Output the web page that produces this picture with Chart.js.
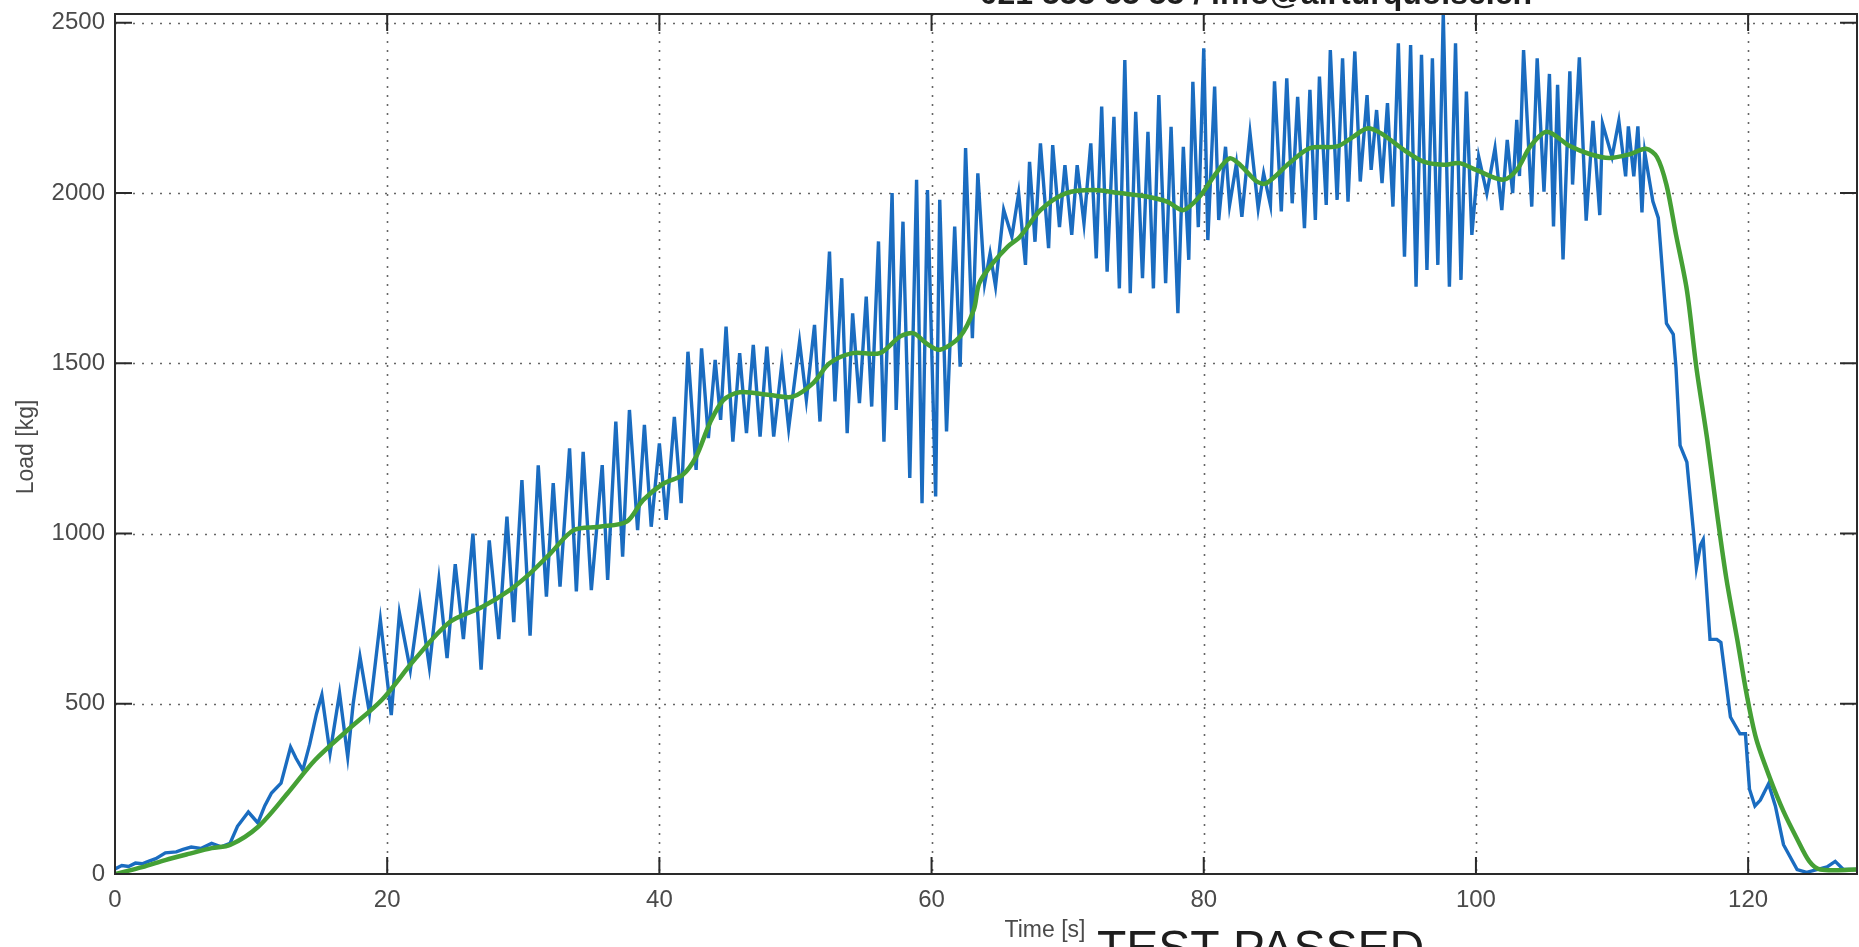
<!DOCTYPE html>
<html>
<head>
<meta charset="utf-8">
<script src="https://cdn.jsdelivr.net/npm/chart.js@4/dist/chart.umd.min.js"></script>
<style>
html,body{margin:0;padding:0;background:#fff;}
#wrap{width:1859px;height:947px;position:relative;}
</style>
</head>
<body>
<div id="wrap"><canvas id="c"></canvas></div>
<script>
// ---- data ----
const xTicks = [0, 20, 40, 60, 80, 100, 120];
const yTicks = [0, 500, 1000, 1500, 2000, 2500];
const xTitle = "Time [s]";
const yTitle = "Load [kg]";
const headerText = "021 555 55 55 / info@airturquoise.ch";
const stampText = "TEST PASSED";

// raw load signal (blue): time [s]
const blueTime = [
0,0.5,1,1.5,2,2.5,3,3.7,4.5,5.0,5.6,6.3,7.1,7.8,8.45,9.0,9.8,10.5,11.0,11.5,12.2,12.9,13.3,13.8,14.3,14.8,15.2,15.8,16.5,17.1,17.5,18.0,18.7,19.5,20.3,20.9,21.7,22.4,23.1,23.8,24.4,
25.0,25.6,26.3,26.9,27.5,28.2,28.8,29.3,29.9,30.5,31.1,31.7,32.2,32.7,33.4,33.9,34.4,35.0,35.8,36.2,36.8,37.3,37.8,38.4,38.9,39.4,40.0,40.5,41.1,41.6,42.1,42.7,43.1,43.6,44.1,44.5,
44.9,45.4,45.9,46.4,46.9,47.4,47.9,48.4,49.0,49.5,50.3,50.8,51.4,51.8,52.5,52.9,53.4,53.8,54.2,54.7,55.2,55.6,56.1,56.5,57.1,57.4,57.9,58.4,58.9,59.3,59.7,60.3,60.6,61.1,61.7,62.1,62.5,63.0,63.4,63.9,64.3,64.7,
65.3,65.9,66.4,66.9,67.2,67.6,68.0,68.6,68.9,69.4,69.8,70.3,70.7,71.2,71.7,72.1,72.5,72.9,73.4,73.8,74.2,74.6,75.0,75.5,75.9,76.3,76.7,77.2,77.6,78.1,78.5,78.9,79.2,79.6,80.0,80.3,80.8,81.1,81.6,81.9,82.4,82.8,83.4,84.0,84.4,84.9,
85.2,85.7,86.1,86.5,86.9,87.4,87.8,88.2,88.5,89.0,89.3,89.8,90.2,90.6,91.1,91.5,92.0,92.3,92.7,93.1,93.5,93.9,94.3,94.75,95.2,95.6,96.0,96.4,96.8,97.2,97.6,98.05,98.5,98.9,99.3,99.7,100.2,100.8,101.4,101.9,102.3,102.7,103.0,103.2,103.5,104.1,104.5,105.0,
105.4,105.7,106.0,106.4,106.9,107.1,107.6,108.1,108.6,109.1,109.3,110.0,110.5,111.0,111.2,111.6,111.9,112.2,112.4,113.0,113.4,114.0,114.5,114.7,115.0,115.5,116.0,116.2,116.5,116.7,117.2,117.7,118.0,118.7,119.4,119.8,120.1,120.5,120.9,121.5,122.0,122.6,123.6,124.3,125.8,126.4,127.0,128.0
];
const blueLoad = [
15,25,22,32,30,38,45,62,65,72,79,75,90,80,90,140,182,150,200,238,267,373,340,305,380,470,526,355,531,344,500,638,472,746,467,766,599,805,608,864,634,
910,690,1000,600,980,690,1050,740,1157,700,1200,815,1148,844,1250,830,1240,834,1201,864,1329,932,1363,1010,1319,1020,1265,1040,1343,1089,1534,1187,1544,1280,1510,1334,
1608,1270,1530,1295,1554,1285,1549,1285,1500,1309,1564,1393,1613,1329,1828,1388,1750,1295,1647,1383,1696,1373,1858,1270,2000,1363,1916,1163,2039,1089,2009,1109,1980,1300,1902,1490,2132,1574,2058,1735,1823,1726,
1951,1872,2000,1789,2092,1857,2146,1838,2141,1900,2082,1877,2082,1911,2146,1808,2254,1769,2224,1720,2391,1706,2239,1750,2180,1720,2288,1735,2195,1647,2136,1804,2327,1900,2425,1862,2313,1921,2136,1965,2087,1930,2176,1955,2058,1965,
2328,1946,2337,1970,2283,1897,2303,1921,2342,1965,2420,1980,2396,1975,2416,2034,2288,2068,2244,2029,2264,1960,2440,1813,2435,1725,2406,1774,2396,1789,2528,1725,2440,1745,2298,1877,2107,1999,2132,1950,2156,2000,2215,2050,2420,1960,2396,2004,
2350,1902,2318,1805,2358,2025,2399,1919,2212,1935,2204,2106,2212,2049,2196,2049,2196,1943,2120,1976,1927,1617,1585,1487,1259,1210,998,900,966,982,689,689,680,461,412,412,249,200,217,265,200,86,13,5,21,37,13,13
];

// smoothed load (green)
const greenTime = [
0,2,3.7,5.5,7.1,8.45,10.5,12.7,14.7,17.1,19.6,22.0,24.6,27.0,29.0,30.5,32.0,33.7,35.6,37.6,38.8,40.3,41.7,42.7,43.7,44.7,45.9,48.1,49.8,51.3,52.5,54.2,56.2,57.7,58.7,59.6,60.6,62.1,63.1,63.5,64.5,65.6,66.5,68.0,69.9,71.9,73.8,75.8,77.3,78.5,79.7,80.9,81.9,82.7,83.9,84.6,86.3,87.8,89.8,91.0,92.0,93.0,94.7,96.1,97.6,98.8,100.0,102.0,103.0,104.0,105.2,106.9,108.4,109.8,111.3,112.5,113.3,114.0,114.7,115.5,116.2,117.0,117.7,118.4,119.2,119.9,120.6,121.6,122.6,123.6,124.5,125.3,128.0
];
const greenLoad = [
0,20,41,60,76,85,138,238,335,423,511,629,740,785,834,883,942,1010,1020,1035,1098,1147,1172,1226,1324,1392,1415,1407,1402,1442,1500,1530,1530,1579,1588,1559,1540,1579,1657,1735,1794,1843,1872,1950,2000,2009,2000,1990,1975,1950,1990,2058,2102,2082,2034,2029,2088,2132,2137,2166,2190,2176,2127,2093,2083,2088,2068,2039,2068,2137,2180,2138,2114,2103,2114,2130,2106,2024,1878,1715,1487,1275,1064,868,689,526,396,282,184,103,37,13,13
];

const X_MAX = 128, Y_MAX = 2526;

function pts(t, v){ return t.map((x,i)=>({x:x, y:v[i]})); }

const framePlugin = {
  id: 'frame',
  beforeDatasetsDraw(chart){
    const {ctx, chartArea:a, scales:{x, y}} = chart;
    ctx.save();
    ctx.strokeStyle = '#666';
    ctx.lineWidth = 1.6;
    ctx.setLineDash([2, 7]);
    xTicks.forEach(v=>{ if(v===0) return; const px = Math.round(x.getPixelForValue(v))+0.5;
      ctx.beginPath(); ctx.moveTo(px, a.top); ctx.lineTo(px, a.bottom); ctx.stroke(); });
    yTicks.forEach(v=>{ if(v===0) return; const py = Math.round(y.getPixelForValue(v))+0.5;
      ctx.beginPath(); ctx.moveTo(a.left, py); ctx.lineTo(a.right, py); ctx.stroke(); });
    ctx.restore();
  },
  afterDatasetsDraw(chart){
    const {ctx, chartArea:a, scales:{x, y}} = chart;
    ctx.save();
    ctx.setLineDash([]);
    ctx.strokeStyle = '#2a2a2a';
    ctx.lineWidth = 2;
    ctx.strokeRect(a.left, a.top, a.right - a.left, a.bottom - a.top);
    const tl = 17;
    xTicks.forEach(v=>{ const px = x.getPixelForValue(v);
      ctx.beginPath(); ctx.moveTo(px, a.bottom); ctx.lineTo(px, a.bottom - tl);
      ctx.moveTo(px, a.top); ctx.lineTo(px, a.top + tl); ctx.stroke(); });
    yTicks.forEach(v=>{ const py = y.getPixelForValue(v);
      ctx.beginPath(); ctx.moveTo(a.left, py); ctx.lineTo(a.left + tl, py);
      ctx.moveTo(a.right, py); ctx.lineTo(a.right - tl, py); ctx.stroke(); });
    // axis titles
    ctx.fillStyle = '#4a4a4a';
    ctx.font = '23px "Liberation Sans", Arial, sans-serif';
    ctx.textAlign = 'center'; ctx.textBaseline = 'middle';
    ctx.fillText(xTitle, 1045, 931);
    ctx.save();
    ctx.translate(27, 447); ctx.rotate(-Math.PI/2);
    ctx.fillText(yTitle, 0, 0);
    ctx.restore();
    // stamp and header (partly cut by the page edge)
    ctx.fillStyle = '#1e1e1e';
    ctx.textAlign = 'left'; ctx.textBaseline = 'alphabetic';
    ctx.font = '48px "Liberation Sans", Arial, sans-serif';
    ctx.fillText(stampText, 1097, 964);
    ctx.font = 'bold 32px "Liberation Sans", Arial, sans-serif';
    ctx.textAlign = 'right';
    ctx.fillText(headerText, 1532, 4);
    ctx.restore();
  }
};

const tickFont = { size: 24, family: '"Liberation Sans", Arial, sans-serif' };

new Chart(document.getElementById('c'), {
  type: 'line',
  data: {
    datasets: [
      { label: 'filtered', data: pts(greenTime, greenLoad), borderColor: '#45a035', borderWidth: 4.5,
        pointRadius: 0, tension: 0.3, fill: false },
      { label: 'load', data: pts(blueTime, blueLoad), borderColor: '#1a6cc0', borderWidth: 3.4,
        pointRadius: 0, tension: 0, fill: false }
    ]
  },
  options: {
    responsive: true, maintainAspectRatio: false, animation: false,
    devicePixelRatio: 1,
    layout: { padding: { top: 14, right: 2, left: 0, bottom: 0 } },
    plugins: { legend: { display: false }, tooltip: { enabled: false } },
    scales: {
      x: { type: 'linear', min: 0, max: X_MAX,
        afterBuildTicks: s => { s.ticks = xTicks.map(v=>({value:v})); },
        afterFit: s => { s.height = 73; s.paddingLeft = 0; s.paddingRight = 0; },
        grid: { display: false, drawTicks: false }, border: { display: false },
        ticks: { padding: 12, color: '#4a4a4a', font: tickFont, maxRotation: 0,
          callback: v => String(v) } },
      y: { type: 'linear', min: 0, max: Y_MAX,
        afterBuildTicks: s => { s.ticks = yTicks.map(v=>({value:v})); },
        afterFit: s => { s.width = 115; s.paddingTop = 0; s.paddingBottom = 0; },
        grid: { display: false, drawTicks: false }, border: { display: false },
        ticks: { padding: 10, color: '#4a4a4a', font: tickFont,
          callback: v => String(v) } }
    }
  },
  plugins: [framePlugin]
});
</script>
</body>
</html>
